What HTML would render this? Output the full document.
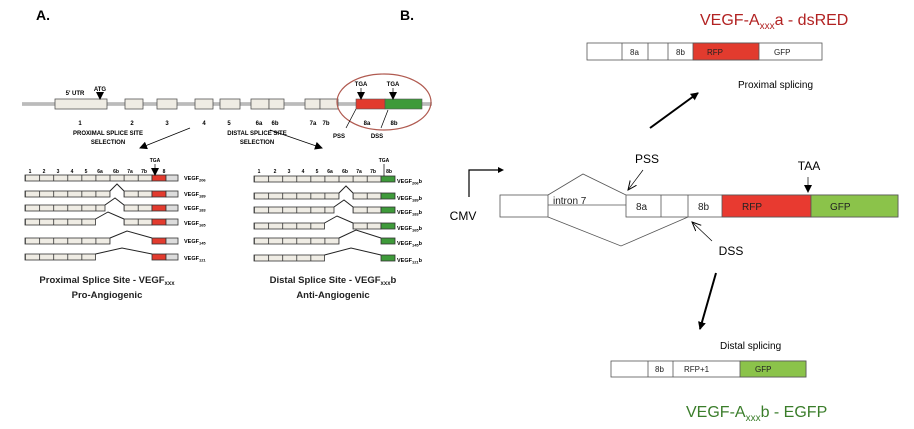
<!DOCTYPE html>
<html><head><meta charset="utf-8"><style>
html,body{margin:0;padding:0;background:#fff;}
svg{display:block;font-family:"Liberation Sans",sans-serif;}
</style></head><body>
<svg width="914" height="429" viewBox="0 0 914 429" xmlns="http://www.w3.org/2000/svg">
<defs>
<marker id="ah" markerWidth="8" markerHeight="8" refX="7" refY="4" orient="auto" markerUnits="userSpaceOnUse"><path d="M0,0 L8,4 L0,8 z" fill="#000"/></marker>
<marker id="ao" markerWidth="10" markerHeight="10" refX="9" refY="5" orient="auto" markerUnits="userSpaceOnUse"><path d="M0,1 L9,5 L0,9" fill="none" stroke="#000" stroke-width="1"/></marker>
<pattern id="pl" patternUnits="userSpaceOnUse" x="25" y="0" width="14.1" height="10"><rect width="14.1" height="10" fill="#efece4"/><line x1="0.4" y1="0" x2="0.4" y2="10" stroke="#333" stroke-width="0.8"/></pattern>
<pattern id="pr" patternUnits="userSpaceOnUse" x="254" y="0" width="14.1" height="10"><rect width="14.1" height="10" fill="#efece4"/><line x1="0.4" y1="0" x2="0.4" y2="10" stroke="#333" stroke-width="0.8"/></pattern>
</defs>
<!-- LEFT PANEL -->
<text x="36" y="20" font-size="14" font-weight="bold">A.</text>
<line x1="22" y1="104" x2="432" y2="104" stroke="#888" stroke-width="3"/>
<line x1="22" y1="104" x2="432" y2="104" stroke="#eee" stroke-width="1"/>
<g fill="#efece4" stroke="#555" stroke-width="0.8">
<rect x="55" y="99" width="52" height="10"/><rect x="125" y="99" width="18" height="10"/><rect x="157" y="99" width="20" height="10"/>
<rect x="195" y="99" width="18" height="10"/><rect x="220" y="99" width="20" height="10"/><rect x="251" y="99" width="18" height="10"/><rect x="269" y="99" width="15" height="10"/>
<rect x="305" y="99" width="15" height="10"/><rect x="320" y="99" width="18" height="10"/>
</g>
<rect x="356" y="99" width="29" height="10" fill="#e23b2e" stroke="#555" stroke-width="0.6"/>
<rect x="385" y="99" width="37" height="10" fill="#3e9a3a" stroke="#555" stroke-width="0.6"/>
<ellipse cx="384" cy="102" rx="47" ry="28" fill="none" stroke="#b05a50" stroke-width="1.2"/>
<g font-size="6" font-weight="bold" text-anchor="middle">
<text x="100" y="91">ATG</text><text x="75" y="95">5' UTR</text>
<text x="80" y="125">1</text><text x="132" y="125">2</text><text x="167" y="125">3</text><text x="204" y="125">4</text><text x="229" y="125">5</text><text x="259" y="125">6a</text><text x="275" y="125">6b</text><text x="313" y="125">7a</text><text x="326" y="125">7b</text>
<text x="361" y="86">TGA</text><text x="393" y="86">TGA</text><text x="367" y="125">8a</text><text x="394" y="125">8b</text>
<text x="339" y="138">PSS</text><text x="377" y="138">DSS</text>
<text x="108" y="135">PROXIMAL SPLICE SITE</text><text x="108" y="144">SELECTION</text>
<text x="257" y="135">DISTAL SPLICE SITE</text><text x="257" y="144">SELECTION</text>
</g>
<g stroke="#000" stroke-width="0.7">
<line x1="100" y1="93" x2="100" y2="99" marker-end="url(#ah)"/>
<line x1="361" y1="88" x2="361" y2="99" marker-end="url(#ah)"/>
<line x1="393" y1="88" x2="393" y2="99" marker-end="url(#ah)"/>
<line x1="346" y1="128" x2="356" y2="109"/><line x1="381" y1="128" x2="388" y2="110"/>
<line x1="190" y1="128" x2="140" y2="148" marker-end="url(#ah)"/>
<line x1="270" y1="130" x2="322" y2="148" marker-end="url(#ah)"/>
</g>
<!-- left isoforms -->
<g stroke="#333" stroke-width="0.8" fill="url(#pl)">
<rect x="25" y="175" width="127" height="6"/>
<rect x="25" y="191" width="85" height="6"/><rect x="124" y="191" width="28" height="6"/>
<rect x="25" y="205" width="80" height="6"/><rect x="124" y="205" width="28" height="6"/>
<rect x="25" y="219" width="70.5" height="6"/><rect x="124" y="219" width="28" height="6"/>
<rect x="25" y="238" width="85" height="6"/>
<rect x="25" y="254" width="70.5" height="6"/>
</g>
<g stroke="#333" stroke-width="0.8" fill="#e23b2e">
<rect x="152" y="175" width="14" height="6"/><rect x="152" y="191" width="14" height="6"/><rect x="152" y="205" width="14" height="6"/><rect x="152" y="219" width="14" height="6"/><rect x="152" y="238" width="14" height="6"/><rect x="152" y="254" width="14" height="6"/>
</g>
<g stroke="#333" stroke-width="0.8" fill="#dcdcdc">
<rect x="166" y="175" width="12" height="6"/><rect x="166" y="191" width="12" height="6"/><rect x="166" y="205" width="12" height="6"/><rect x="166" y="219" width="12" height="6"/><rect x="166" y="238" width="12" height="6"/><rect x="166" y="254" width="12" height="6"/>
</g>
<g stroke="#222" stroke-width="1" fill="none">
<polyline points="110,191 117,184 124,191"/>
<polyline points="105,205 115,198 124,205"/>
<polyline points="95.5,219 108,212 124,219"/>
<polyline points="110,238 127,231 152,238"/>
<polyline points="95.5,254 122,248 152,254"/>
</g>
<!-- right isoforms -->
<g stroke="#333" stroke-width="0.8" fill="url(#pr)">
<rect x="254" y="176" width="127" height="6"/>
<rect x="254" y="193" width="85" height="6"/><rect x="353" y="193" width="28" height="6"/>
<rect x="254" y="207" width="80" height="6"/><rect x="353" y="207" width="28" height="6"/>
<rect x="254" y="223" width="70.5" height="6"/><rect x="353" y="223" width="28" height="6"/>
<rect x="254" y="238" width="85" height="6"/>
<rect x="254" y="255" width="70.5" height="6"/>
</g>
<g stroke="#333" stroke-width="0.8" fill="#3e9a3a">
<rect x="381" y="176" width="14" height="6"/><rect x="381" y="193" width="14" height="6"/><rect x="381" y="207" width="14" height="6"/><rect x="381" y="223" width="14" height="6"/><rect x="381" y="238" width="14" height="6"/><rect x="381" y="255" width="14" height="6"/>
</g>
<g stroke="#222" stroke-width="1" fill="none">
<polyline points="339,193 346,186 353,193"/>
<polyline points="334,207 344,200 353,207"/>
<polyline points="324.5,223 337,216 353,223"/>
<polyline points="339,238 356,230 381,238"/>
<polyline points="324.5,255 351,248 381,255"/>
</g>
<g font-size="5" font-weight="bold" text-anchor="middle">
<text x="30" y="173">1</text><text x="44" y="173">2</text><text x="58" y="173">3</text><text x="72" y="173">4</text><text x="86" y="173">5</text><text x="100" y="173">6a</text><text x="116" y="173">6b</text><text x="130" y="173">7a</text><text x="144" y="173">7b</text><text x="164" y="173">8</text>
<text x="155" y="162">TGA</text>
<text x="259" y="173">1</text><text x="275" y="173">2</text><text x="289" y="173">3</text><text x="303" y="173">4</text><text x="317" y="173">5</text><text x="330" y="173">6a</text><text x="345" y="173">6b</text><text x="359" y="173">7a</text><text x="373" y="173">7b</text><text x="389" y="173">8b</text>
<text x="384" y="162">TGA</text>
</g>
<line x1="155" y1="164" x2="155" y2="175" stroke="#000" stroke-width="0.7" marker-end="url(#ah)"/>
<line x1="384" y1="164" x2="384" y2="176" stroke="#000" stroke-width="0.7"/>
<g font-size="5.5" font-weight="bold">
<text x="184" y="180">VEGF<tspan font-size="4" dy="1.5">206</tspan></text>
<text x="184" y="196">VEGF<tspan font-size="4" dy="1.5">189</tspan></text>
<text x="184" y="210">VEGF<tspan font-size="4" dy="1.5">183</tspan></text>
<text x="184" y="225">VEGF<tspan font-size="4" dy="1.5">165</tspan></text>
<text x="184" y="243">VEGF<tspan font-size="4" dy="1.5">145</tspan></text>
<text x="184" y="260">VEGF<tspan font-size="4" dy="1.5">121</tspan></text>
<text x="397" y="183">VEGF<tspan font-size="4" dy="1.5">206</tspan><tspan dy="-1.5">b</tspan></text>
<text x="397" y="200">VEGF<tspan font-size="4" dy="1.5">189</tspan><tspan dy="-1.5">b</tspan></text>
<text x="397" y="214">VEGF<tspan font-size="4" dy="1.5">183</tspan><tspan dy="-1.5">b</tspan></text>
<text x="397" y="230">VEGF<tspan font-size="4" dy="1.5">165</tspan><tspan dy="-1.5">b</tspan></text>
<text x="397" y="245">VEGF<tspan font-size="4" dy="1.5">145</tspan><tspan dy="-1.5">b</tspan></text>
<text x="397" y="262">VEGF<tspan font-size="4" dy="1.5">121</tspan><tspan dy="-1.5">b</tspan></text>
</g>
<g font-size="9.5" font-weight="bold" text-anchor="middle" fill="#222">
<text x="107" y="283">Proximal Splice Site - VEGF<tspan font-size="6" dy="2">xxx</tspan></text>
<text x="107" y="298">Pro-Angiogenic</text>
<text x="333" y="283">Distal Splice Site - VEGF<tspan font-size="6" dy="2">xxx</tspan><tspan dy="-2">b</tspan></text>
<text x="333" y="298">Anti-Angiogenic</text>
</g>
<!-- RIGHT PANEL -->
<text x="400" y="20" font-size="14" font-weight="bold">B.</text>
<text x="700" y="25" font-size="16" fill="#b22222">VEGF-A<tspan font-size="10" dy="4">xxx</tspan><tspan dy="-4">a - dsRED</tspan></text>
<g stroke="#555" stroke-width="0.8" fill="#fff">
<rect x="587" y="43" width="235" height="17"/>
<rect x="693" y="43" width="66" height="17" fill="#e23b2e"/>
<line x1="622" y1="43" x2="622" y2="60"/><line x1="648" y1="43" x2="648" y2="60"/><line x1="668" y1="43" x2="668" y2="60"/>
</g>
<g font-size="8" fill="#222"><text x="630" y="55">8a</text><text x="676" y="55">8b</text><text x="707" y="55">RFP</text><text x="774" y="55">GFP</text></g>
<text x="738" y="88" font-size="10">Proximal splicing</text>
<line x1="650" y1="128" x2="698" y2="93" stroke="#000" stroke-width="2" marker-end="url(#ah)"/>
<polyline points="469,197 469,170 500,170" fill="none" stroke="#000" stroke-width="1.2"/>
<path d="M498,167 L504,170 L498,173z"/>
<text x="463" y="220" font-size="12" text-anchor="middle">CMV</text>
<g stroke="#555" stroke-width="0.8" fill="#fff">
<rect x="500" y="195" width="48" height="22"/>
<line x1="548" y1="205" x2="626" y2="205"/>
<rect x="626" y="195" width="272" height="22"/>
<rect x="722" y="195" width="89" height="22" fill="#e83a30"/>
<rect x="811" y="195" width="87" height="22" fill="#8bc34a"/>
<line x1="661" y1="195" x2="661" y2="217"/><line x1="688" y1="195" x2="688" y2="217"/>
<polyline points="548,195 583,174 626,195" fill="none"/>
<polyline points="548,217 621,246 688,217" fill="none"/>
</g>
<g font-size="10" fill="#222"><text x="553" y="204">intron 7</text><text x="636" y="210">8a</text><text x="698" y="210">8b</text><text x="742" y="210">RFP</text><text x="830" y="210">GFP</text></g>
<text x="647" y="163" font-size="12" text-anchor="middle">PSS</text>
<text x="731" y="255" font-size="12" text-anchor="middle">DSS</text>
<text x="809" y="170" font-size="12" text-anchor="middle">TAA</text>
<g stroke="#000" stroke-width="0.7">
<line x1="643" y1="170" x2="628" y2="190" marker-end="url(#ao)"/>
<line x1="712" y1="241" x2="692" y2="222" marker-end="url(#ao)"/>
<line x1="808" y1="177" x2="808" y2="192" marker-end="url(#ah)"/>
</g>
<line x1="716" y1="273" x2="700" y2="329" stroke="#000" stroke-width="2" marker-end="url(#ah)"/>
<text x="720" y="349" font-size="10">Distal splicing</text>
<g stroke="#555" stroke-width="0.8" fill="#fff">
<rect x="611" y="361" width="195" height="16"/>
<rect x="740" y="361" width="66" height="16" fill="#8bc34a"/>
<line x1="648" y1="361" x2="648" y2="377"/><line x1="673" y1="361" x2="673" y2="377"/>
</g>
<g font-size="8" fill="#222"><text x="655" y="372">8b</text><text x="684" y="372">RFP+1</text><text x="755" y="372">GFP</text></g>
<text x="686" y="417" font-size="16" fill="#3a7d2a">VEGF-A<tspan font-size="10" dy="4">xxx</tspan><tspan dy="-4">b - EGFP</tspan></text>
</svg>
</body></html>
